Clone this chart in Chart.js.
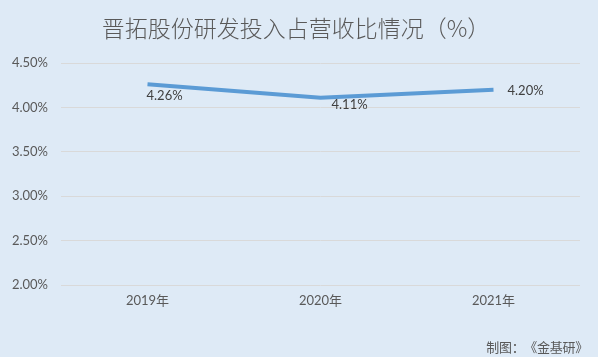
<!DOCTYPE html>
<html>
<head>
<meta charset="utf-8">
<script src="https://cdn.jsdelivr.net/npm/chart.js@4"></script>
<style>
html,body{margin:0;padding:0;background:#deeaf6;}
#wrap{position:relative;width:598px;height:357px;}
</style>
</head>
<body>
<div id="wrap"><canvas id="c" width="598" height="357"></canvas></div>
<script>
const categories = ['2019年', '2020年', '2021年'];
const ratioValues = [4.26, 4.11, 4.20];
const yTicks = [2.0, 2.5, 3.0, 3.5, 4.0, 4.5];
const titleText = '晋拓股份研发投入占营收比情况（%）';
const footerText = '制图：《金基研》';

const FONT = '"Lato", "Noto Sans CJK SC", sans-serif';
const TXT = '#595959';

const labelPlugin = {
  id: 'labels',
  afterDatasetsDraw(chart) {
    const ctx = chart.ctx;
    const meta = chart.getDatasetMeta(0);
    ctx.save();
    ctx.font = '13px ' + FONT;
    ctx.fillStyle = '#404040';
    ctx.textBaseline = 'middle';
    ctx.textAlign = 'left';
    const offs = [[-1, 12], [11, 7], [14, 1]];
    meta.data.forEach((pt, i) => {
      const v = ratioValues[i].toFixed(2) + '%';
      ctx.fillText(v, pt.x + offs[i][0], pt.y + offs[i][1]);
    });
    ctx.restore();
  },
  afterDraw(chart) {
    const ctx = chart.ctx;
    ctx.save();
    ctx.fillStyle = TXT;
    ctx.textBaseline = 'middle';
    ctx.textAlign = 'center';
    ctx.font = '300 23px "Noto Sans CJK SC", sans-serif';
    ctx.fillText(titleText, 296, 28);
    ctx.textAlign = 'center';
    ctx.font = '13px "Noto Sans CJK SC", sans-serif';
    const chars = Array.from(footerText);
    const step = 12.7;
    const x0 = 588 - step * chars.length;
    chars.forEach((ch, i) => ctx.fillText(ch, x0 + step * (i + 0.5), 347));
    ctx.restore();
  }
};

new Chart(document.getElementById('c'), {
  type: 'line',
  data: {
    labels: categories,
    datasets: [{
      data: ratioValues,
      borderColor: '#5b9bd5',
      borderWidth: 4,
      pointRadius: 0,
      tension: 0,
      fill: false
    }]
  },
  options: {
    responsive: false,
    animation: false,
    layout: { padding: { left: 0, right: 18, top: 63, bottom: 42 } },
    plugins: { legend: { display: false }, tooltip: { enabled: false } },
    scales: {
      x: {
        offset: true,
        grid: { display: false, drawTicks: false },
        border: { display: false },
        ticks: { color: TXT, font: { family: FONT, size: 13 }, padding: 8 },
        afterFit(s) { s.height = 30; }
      },
      y: {
        min: 2, max: 4.5,
        afterBuildTicks(s) { s.ticks = yTicks.map(v => ({ value: v })); },
        grid: { color: '#d9d9d9', lineWidth: 1, drawTicks: false },
        border: { display: false },
        ticks: {
          color: TXT, font: { family: FONT, size: 13 }, padding: 13,
          callback: v => Number(v).toFixed(2) + '%'
        },
        afterFit(s) { s.width = 61; }
      }
    }
  },
  plugins: [labelPlugin]
});
</script>
</body>
</html>
